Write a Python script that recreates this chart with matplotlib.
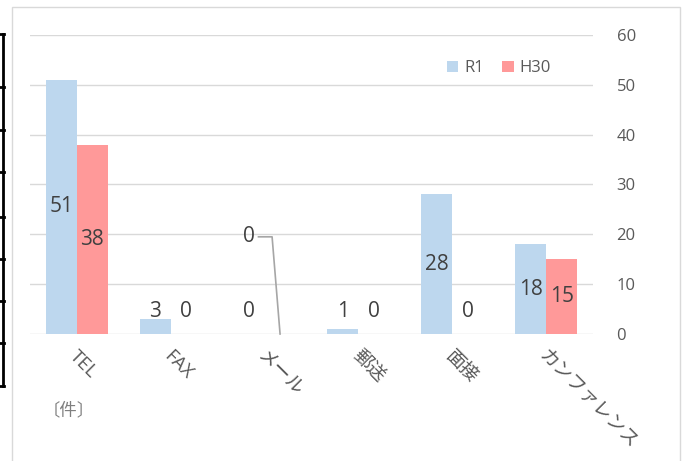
import matplotlib
matplotlib.use("Agg")
import matplotlib.pyplot as plt
from matplotlib.lines import Line2D
from matplotlib.patches import Rectangle
import numpy as np

categories = ["TEL", "FAX", "メール", "郵送", "面接", "カンファレンス"]
r1 = [51, 3, 0, 1, 28, 18]
h30 = [38, 0, 0, 0, 0, 15]
series_names = ["R1", "H30"]
yticks = [0, 10, 20, 30, 40, 50, 60]
unit_label = "〔件〕"

plt.rcParams['font.family'] = ['Open Sans', 'Noto Sans CJK JP', 'DejaVu Sans']
W, H = 688, 461
fig = plt.figure(figsize=(W/100, H/100), dpi=100)

# chart frame
fig.add_artist(Rectangle((12/W, -0.01), (680-12)/W, (H-7)/H + 0.01, transform=fig.transFigure,
                         fill=False, edgecolor="#d9d9d9", linewidth=1.0))
# partial table lines on the left edge
for yy in [34, 87, 130, 172, 217, 259, 301, 343, 386]:
    fig.add_artist(Line2D([0, 4/W], [1 - yy/H, 1 - yy/H], transform=fig.transFigure, color="black", lw=2))
fig.add_artist(Line2D([3/W, 3/W], [1 - 34/H, 1 - 386/H], transform=fig.transFigure, color="black", lw=2))

ax = fig.add_axes([30/W, 1 - 334/H, (593-30)/W, (334-35)/H])
x = np.arange(len(categories))
w = 0.33
c1, c2 = "#BDD7EE", "#FF9999"
ax.bar(x - w/2, r1, w, color=c1, label=series_names[0], zorder=2)
ax.bar(x + w/2, h30, w, color=c2, label=series_names[1], zorder=2)

ax.set_xlim(-0.5, len(categories) - 0.5)
ax.set_ylim(0, 60)
ax.set_yticks(yticks)
ax.yaxis.tick_right()
ax.tick_params(axis='y', length=0, pad=17, labelsize=12, labelcolor="#595959")
ax.tick_params(axis='x', length=0)
ax.grid(axis='y', color="#d9d9d9", linewidth=1, zorder=0)
for s in ax.spines.values():
    s.set_visible(False)
ax.set_xticks(x)
ax.set_xticklabels([])

for i, lab in enumerate(categories):
    ax.annotate(lab, xy=(i, 0), xytext=(-3, -14), textcoords="offset points",
                rotation=-45, rotation_mode="anchor", ha="left", va="center",
                fontsize=13.5, color="#595959",
                family=['Open Sans', 'Noto Sans CJK JP'])

def lab_y(v):
    return max(v / 2, 4.6)

fs = 15
for i in range(len(categories)):
    ax.text(i - w/2, lab_y(r1[i]), str(r1[i]), ha="center", va="center", fontsize=fs, color="#404040", zorder=3)
    if categories[i] == "メール":
        ax.text(i - w/2, 19.5, str(h30[i]), ha="center", va="center", fontsize=fs, color="#404040", zorder=3)
        ax.plot([i - w/2 + 0.1, i + 0.08, i + w/2], [19.5, 19.5, 0], color="#a6a6a6", lw=1.2, zorder=3, clip_on=False)
    else:
        ax.text(i + w/2, lab_y(h30[i]), str(h30[i]), ha="center", va="center", fontsize=fs, color="#404040", zorder=3)

ax.legend(loc="upper right", bbox_to_anchor=(0.952, 0.965), ncol=2, frameon=False, fontsize=12,
          handlelength=0.7, handleheight=0.7, handletextpad=0.35, columnspacing=1.1, labelcolor="#595959")

fig.text(43/W, 1 - 410/H, unit_label, fontsize=12.5, color="#7f7f7f", va="center", ha="left",
         family=['Noto Sans CJK JP'])

fig.savefig("out.png", dpi=100)
